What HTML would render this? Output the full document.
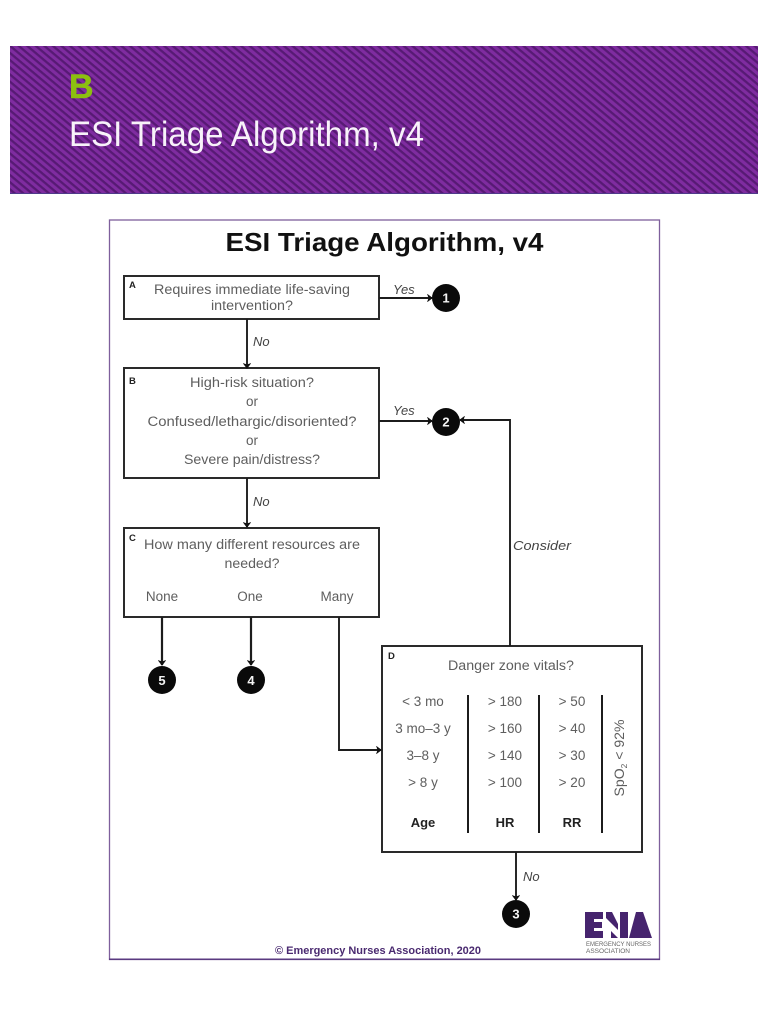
<!DOCTYPE html>
<html><head><meta charset="utf-8"><style>
html,body{margin:0;padding:0;background:#fff;width:768px;height:1024px;overflow:hidden}
svg{display:block}
text{font-family:"Liberation Sans",sans-serif}
.g{font-size:13.5px;fill:#5e5e5e;text-anchor:middle}
.i{font-size:13px;font-style:italic;fill:#444}
.l{font-size:9.5px;font-weight:bold;fill:#222}
.n{font-size:13px;font-weight:bold;fill:#f4f4f4;text-anchor:middle}
.b{font-size:13px;font-weight:bold;fill:#222;text-anchor:middle}
</style></head><body>
<svg width="768" height="1024" viewBox="0 0 768 1024" xmlns="http://www.w3.org/2000/svg">
<defs>
<pattern id="st" width="5.500" height="5.500" patternUnits="userSpaceOnUse" patternTransform="rotate(40)">
<rect width="5.500" height="5.500" fill="#7f2ca0"/><rect width="5.500" height="2.300" fill="#571a74"/>
</pattern>
<marker id="a" markerWidth="8" markerHeight="8" refX="6.500" refY="4" orient="auto" markerUnits="userSpaceOnUse">
<path d="M2.500 1 L6.500 4 L2.500 7 L3.500 4Z" fill="#111" stroke="#111" stroke-width="1"/>
</marker>
</defs>
<rect x="10" y="46" width="748" height="148" fill="url(#st)"/>
<rect x="10" y="193" width="748" height="1" fill="#4f3a8a"/>
<text x="69" y="98" font-size="34" font-weight="bold" fill="#8cc010" stroke="#8cc010" stroke-width=".5">B</text>
<text x="69" y="146" font-size="35" fill="#f8f2fa" textLength="355" lengthAdjust="spacingAndGlyphs">ESI Triage Algorithm, v4</text>

<rect x="109.500" y="220" width="550" height="739.500" fill="#fff" stroke="#7e5f9c" stroke-width="1.300"/>
<rect x="109" y="958.500" width="551" height="1.500" fill="#5a3a80"/>
<text x="384.500" y="251" font-size="26" font-weight="bold" fill="#111" text-anchor="middle" textLength="318" lengthAdjust="spacingAndGlyphs">ESI Triage Algorithm, v4</text>

<g fill="#fff" stroke="#2a2a2a" stroke-width="2">
<rect x="124" y="276" width="255" height="43"/>
<rect x="124" y="368" width="255" height="110"/>
<rect x="124" y="528" width="255" height="89"/>
<rect x="382" y="646" width="260" height="206"/>
</g>

<g fill="none" stroke="#1c1c1c" stroke-width="1.900">
<path d="M379 298H432" marker-end="url(#a)"/>
<path d="M247 319V368" marker-end="url(#a)"/>
<path d="M379 421H432" marker-end="url(#a)"/>
<path d="M247 478V527" marker-end="url(#a)"/>
<path d="M162 617V665" marker-end="url(#a)" stroke-width="2.200"/>
<path d="M251 617V665" marker-end="url(#a)" stroke-width="2.200"/>
<path d="M339 617V750H381" marker-end="url(#a)"/>
<path d="M510 646V420H460" marker-end="url(#a)"/>
<path d="M516 852V900" marker-end="url(#a)"/>
<path d="M468 695V833M539 695V833M602 695V833" stroke-width="2"/>
</g>

<g fill="#0a0a0a">
<circle cx="446" cy="298" r="14"/><circle cx="446" cy="422" r="14"/>
<circle cx="162" cy="680" r="14"/><circle cx="251" cy="680" r="14"/>
<circle cx="516" cy="914" r="14"/>
</g>
<text class="n" x="446" y="302.500">1</text><text class="n" x="446" y="426.500">2</text>
<text class="n" x="162" y="685">5</text><text class="n" x="251" y="685">4</text>
<text class="n" x="516" y="918.500">3</text>

<text class="l" x="129" y="288">A</text><text class="l" x="129" y="384">B</text>
<text class="l" x="129" y="541">C</text><text class="l" x="388" y="659">D</text>

<text class="g" x="252" y="294" textLength="196" lengthAdjust="spacingAndGlyphs">Requires immediate life-saving</text>
<text class="g" x="252" y="310" textLength="82" lengthAdjust="spacingAndGlyphs">intervention?</text>
<text class="g" x="252" y="387" textLength="124" lengthAdjust="spacingAndGlyphs">High-risk situation?</text>
<text class="g" x="252" y="406">or</text>
<text class="g" x="252" y="426" textLength="209" lengthAdjust="spacingAndGlyphs">Confused/lethargic/disoriented?</text>
<text class="g" x="252" y="445">or</text>
<text class="g" x="252" y="464" textLength="136" lengthAdjust="spacingAndGlyphs">Severe pain/distress?</text>
<text class="g" x="252" y="549" textLength="216" lengthAdjust="spacingAndGlyphs">How many different resources are</text>
<text class="g" x="252" y="568" textLength="55" lengthAdjust="spacingAndGlyphs">needed?</text>
<text class="g" x="162" y="601">None</text><text class="g" x="250" y="601">One</text><text class="g" x="337" y="601">Many</text>

<text class="g" x="511" y="670" textLength="126" lengthAdjust="spacingAndGlyphs">Danger zone vitals?</text>
<text class="g" x="423" y="706">&lt; 3 mo</text><text class="g" x="423" y="733">3 mo–3 y</text>
<text class="g" x="423" y="760">3–8 y</text><text class="g" x="423" y="787">&gt; 8 y</text>
<text class="g" x="505" y="706">&gt; 180</text><text class="g" x="505" y="733">&gt; 160</text>
<text class="g" x="505" y="760">&gt; 140</text><text class="g" x="505" y="787">&gt; 100</text>
<text class="g" x="572" y="706">&gt; 50</text><text class="g" x="572" y="733">&gt; 40</text>
<text class="g" x="572" y="760">&gt; 30</text><text class="g" x="572" y="787">&gt; 20</text>
<text class="b" x="423" y="827">Age</text><text class="b" x="505" y="827">HR</text><text class="b" x="572" y="827">RR</text>
<text class="g" transform="translate(624,758) rotate(-90)" textLength="77" lengthAdjust="spacingAndGlyphs">SpO<tspan font-size="8" dy="3">2</tspan><tspan dy="-3"> &lt; 92%</tspan></text>

<text class="i" x="393" y="294">Yes</text><text class="i" x="393" y="415">Yes</text>
<text class="i" x="253" y="346">No</text><text class="i" x="253" y="506">No</text>
<text class="i" x="523" y="881">No</text><text class="i" x="513" y="550" textLength="58" lengthAdjust="spacingAndGlyphs">Consider</text>

<text x="378" y="954" font-size="11" font-weight="bold" fill="#4a2a70" text-anchor="middle" textLength="206" lengthAdjust="spacingAndGlyphs">© Emergency Nurses Association, 2020</text>

<g fill="#46246e">
<path d="M585 912H603V919H594V922H602V928H594V931H603V938H585Z"/>
<path d="M606 912H612L618 924V930L606 918Z"/>
<path d="M611 931L618 938H611Z"/>
<path d="M620 912H628V938H620Z"/>
<path d="M636 912H643L652 938H629Z"/>
</g>
<text x="586" y="946" font-size="6" fill="#666" textLength="65" lengthAdjust="spacingAndGlyphs">EMERGENCY NURSES</text>
<text x="586" y="953" font-size="6" fill="#666" textLength="44" lengthAdjust="spacingAndGlyphs">ASSOCIATION</text>
</svg>
</body></html>
